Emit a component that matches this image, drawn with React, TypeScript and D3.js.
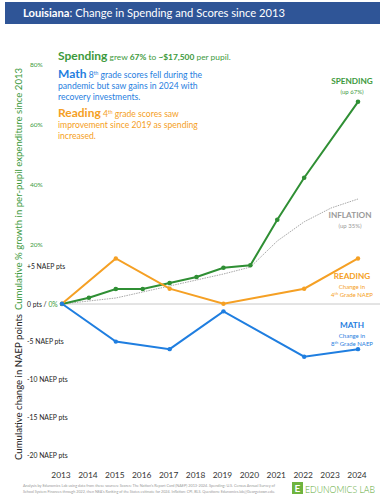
import React, { useEffect, useRef } from 'react';
import * as d3 from 'd3';

const years = [2013, 2014, 2015, 2016, 2017, 2018, 2019, 2020, 2021, 2022, 2023, 2024];
// cumulative % growth (null = no data point)
const spending = [0, 2.1, 5, 5, 7, 9, 12.1, 12.9, 28.1, 42.1, null, 67.4];
const inflation = [0, 1, 2, 4, 6, 8, 10, 12.3, 21, 27.4, 32, 35];
// NAEP points change
const readingYears = [2013, 2015, 2017, 2019, 2022, 2024];
const reading = [0, 6, 2, 0, 2, 6];
const mathYears = [2013, 2015, 2017, 2019, 2022, 2024];
const mathScores = [0, -5, -6, -1, -7, -6];
const pctTicks = [20, 40, 60, 80];
const ptsTicks = [5, -5, -10, -15, -20];

const GREEN = '#2f8f34';
const GREEN_TXT = '#3d9a3d';
const BLUE = '#1f7ee0';
const ORANGE = '#f5a024';
const GRAY = '#9a9a9a';
const FONT = 'Lato, "Open Sans", sans-serif';

function App() {
  const svgRef = useRef<SVGSVGElement>(null);

  useEffect(() => {
    const svg = d3.select(svgRef.current);
    svg.selectAll('*').remove();

    const width = 386;
    const height = 500;

    const x = d3.scaleLinear().domain([2013, 2024]).range([62, 358]);
    const yPct = d3.scaleLinear().domain([0, 80]).range([304, 64]);
    const yPts = d3.scaleLinear().domain([-20, 5]).range([455, 266]);

    svg.append('rect').attr('width', width).attr('height', height).attr('fill', '#fff');

    // title bar
    svg.append('rect').attr('x', 5).attr('y', 2).attr('width', 375).attr('height', 22).attr('fill', '#2f5597');
    const title = svg.append('text').attr('x', 23).attr('y', 17).attr('font-family', FONT)
      .attr('font-size', 11.2).attr('fill', '#fff');
    title.append('tspan').attr('font-weight', 'bold').text('Louisiana');
    title.append('tspan').text(': Change in Spending and Scores since 2013');

    // annotations
    const ann = svg.append('g').attr('font-family', FONT);
    const s1 = ann.append('text').attr('x', 58).attr('y', 60).attr('font-size', 8.4).attr('fill', GREEN_TXT);
    s1.append('tspan').attr('font-size', 12).attr('font-weight', 'bold').text('Spending');
    s1.append('tspan').text(' grew ');
    s1.append('tspan').attr('font-weight', 'bold').text('67%');
    s1.append('tspan').text(' to ');
    s1.append('tspan').attr('font-weight', 'bold').text('~$17,500');
    s1.append('tspan').text(' per pupil.');

    const m1 = ann.append('text').attr('x', 58).attr('y', 78).attr('font-size', 8.6).attr('fill', BLUE);
    m1.append('tspan').attr('font-size', 12).attr('font-weight', 'bold').text('Math');
    m1.append('tspan').text(' 8');
    m1.append('tspan').attr('font-size', 5).attr('dy', -3.5).text('th');
    m1.append('tspan').attr('dy', 3.5).text(' grade scores fell during the');
    ann.append('text').attr('x', 58).attr('y', 89).attr('font-size', 8.6).attr('fill', BLUE)
      .text('pandemic but saw gains in 2024 with');
    ann.append('text').attr('x', 58).attr('y', 100).attr('font-size', 8.6).attr('fill', BLUE)
      .text('recovery investments.');

    const r1 = ann.append('text').attr('x', 58).attr('y', 117).attr('font-size', 8.6).attr('fill', ORANGE);
    r1.append('tspan').attr('font-size', 12).attr('font-weight', 'bold').text('Reading');
    r1.append('tspan').text(' 4');
    r1.append('tspan').attr('font-size', 5).attr('dy', -3.5).text('th');
    r1.append('tspan').attr('dy', 3.5).text(' grade scores saw');
    ann.append('text').attr('x', 58).attr('y', 128).attr('font-size', 8.6).attr('fill', ORANGE)
      .text('improvement since 2019 as spending');
    ann.append('text').attr('x', 58).attr('y', 139).attr('font-size', 8.6).attr('fill', ORANGE)
      .text('increased.');

    // axis titles
    svg.append('text').attr('transform', 'translate(22,189) rotate(-90)').attr('text-anchor', 'middle')
      .attr('font-family', FONT).attr('font-size', 9.6).attr('fill', GREEN_TXT)
      .text('Cumulative % growth in per-pupil expenditure since 2013');
    svg.append('text').attr('transform', 'translate(22,387) rotate(-90)').attr('text-anchor', 'middle')
      .attr('font-family', FONT).attr('font-size', 9.6).attr('fill', '#222')
      .text('Cumulative change in NAEP points');

    // tick labels
    svg.append('g').selectAll('text').data(pctTicks).enter().append('text')
      .attr('x', 30).attr('y', d => yPct(d) + 2.5).attr('font-family', FONT).attr('font-size', 6.5)
      .attr('fill', GREEN_TXT).text(d => `${d}%`);
    svg.append('g').selectAll('text').data(ptsTicks).enter().append('text')
      .attr('x', 27).attr('y', d => yPts(d) + 2.5).attr('font-family', FONT).attr('font-size', 6.8)
      .attr('fill', '#222').text(d => `${d > 0 ? '+' : ''}${d} NAEP pts`);
    const zero = svg.append('text').attr('x', 27).attr('y', yPct(0) + 2.5).attr('font-family', FONT)
      .attr('font-size', 6.8).attr('fill', '#222');
    zero.append('tspan').text('0 pts / ');
    zero.append('tspan').attr('fill', GREEN_TXT).text('0%');

    // zero line
    svg.append('line').attr('x1', x(2013)).attr('x2', 380).attr('y1', yPct(0)).attr('y2', yPct(0))
      .attr('stroke', '#c8c8c8').attr('stroke-width', 1);

    // year labels
    svg.append('g').selectAll('text').data(years).enter().append('text')
      .attr('x', d => x(d) - 1).attr('y', 478).attr('text-anchor', 'middle').attr('font-family', FONT)
      .attr('font-size', 8.4).attr('fill', '#333').text(d => d);

    // inflation
    const infl = years.map((yr, i) => ({ yr, v: inflation[i] }));
    svg.append('path').datum(infl)
      .attr('d', d3.line<any>().x(d => x(d.yr)).y(d => yPct(d.v)))
      .attr('fill', 'none').attr('stroke', '#a8a8a8').attr('stroke-width', 1).attr('stroke-dasharray', '1.5,1');

    // spending
    const sp = years.map((yr, i) => ({ yr, v: spending[i] })).filter(d => d.v !== null) as { yr: number; v: number }[];
    svg.append('path').datum(sp)
      .attr('d', d3.line<any>().x(d => x(d.yr)).y(d => yPct(d.v)))
      .attr('fill', 'none').attr('stroke', GREEN).attr('stroke-width', 2);
    svg.append('g').selectAll('circle').data(sp).enter().append('circle')
      .attr('cx', d => x(d.yr)).attr('cy', d => yPct(d.v)).attr('r', 2.3).attr('fill', GREEN);

    // reading
    const rd = readingYears.map((yr, i) => ({ yr, v: reading[i] }));
    svg.append('path').datum(rd)
      .attr('d', d3.line<any>().x(d => x(d.yr)).y(d => yPts(d.v)))
      .attr('fill', 'none').attr('stroke', ORANGE).attr('stroke-width', 2);
    svg.append('g').selectAll('circle').data(rd).enter().append('circle')
      .attr('cx', d => x(d.yr)).attr('cy', d => yPts(d.v)).attr('r', 2.2).attr('fill', ORANGE);

    // math
    const mt = mathYears.map((yr, i) => ({ yr, v: mathScores[i] }));
    svg.append('path').datum(mt)
      .attr('d', d3.line<any>().x(d => x(d.yr)).y(d => yPts(d.v)))
      .attr('fill', 'none').attr('stroke', BLUE).attr('stroke-width', 2);
    svg.append('g').selectAll('circle').data(mt).enter().append('circle')
      .attr('cx', d => x(d.yr)).attr('cy', d => yPts(d.v)).attr('r', 2.2).attr('fill', BLUE);

    // series labels
    const lab = (cx: number, cy: number, big: string, color: string, lines: (string | [string, string, string])[]) => {
      svg.append('text').attr('x', cx).attr('y', cy).attr('text-anchor', 'middle').attr('font-family', FONT)
        .attr('font-size', 8.2).attr('font-weight', 'bold').attr('fill', color).text(big);
      lines.forEach((ln, i) => {
        const t = svg.append('text').attr('x', cx).attr('y', cy + 9.5 + i * 8.5).attr('text-anchor', 'middle')
          .attr('font-family', FONT).attr('font-size', 6).attr('fill', color);
        if (typeof ln === 'string') t.text(ln);
        else {
          t.append('tspan').text(ln[0]);
          t.append('tspan').attr('font-size', 4).attr('dy', -2.5).text(ln[1]);
          t.append('tspan').attr('dy', 2.5).text(ln[2]);
        }
      });
    };
    lab(352, 84, 'SPENDING', GREEN_TXT, ['(up 67%)']);
    lab(350, 218, 'INFLATION', GRAY, ['(up 35%)']);
    lab(352, 279, 'READING', ORANGE, ['Change in', ['4', 'th', ' Grade NAEP']]);
    lab(352, 328, 'MATH', BLUE, ['Change in', ['8', 'th', ' Grade NAEP']]);

    // footer
    const foot = svg.append('g').attr('font-family', FONT).attr('font-size', 3.6).attr('fill', '#999');
    foot.append('text').attr('x', 23).attr('y', 487).attr('textLength', 252).attr('lengthAdjust', 'spacingAndGlyphs')
      .text("Analysis by Edunomics Lab using data from these sources: Scores: The Nation's Report Card (NAEP) 2013-2024. Spending: U.S. Census Annual Survey of");
    foot.append('text').attr('x', 23).attr('y', 492.5).attr('textLength', 252).attr('lengthAdjust', 'spacingAndGlyphs')
      .text("School System Finances through 2022, then NEA's Ranking of the States estimate for 2024. Inflation: CPI, BLS. Questions: Edunomics.lab@Georgetown.edu.");

    // logo
    svg.append('rect').attr('x', 292).attr('y', 482).attr('width', 11).attr('height', 12).attr('fill', '#6fb43f');
    svg.append('text').attr('x', 297.5).attr('y', 492).attr('text-anchor', 'middle').attr('font-family', FONT)
      .attr('font-size', 10).attr('font-weight', 'bold').attr('fill', '#fff').text('E');
    svg.append('text').attr('x', 305).attr('y', 493).attr('font-family', FONT).attr('font-size', 9.6)
      .attr('font-weight', 300).attr('fill', '#5aa832')
      .attr('textLength', 70).attr('lengthAdjust', 'spacingAndGlyphs').text('EDUNOMICS LAB');
  }, []);

  return (
    <svg ref={svgRef} width={386} height={500}
      style={{ position: 'absolute', left: 0, top: 0, display: 'block' }} />
  );
}

export default App;
